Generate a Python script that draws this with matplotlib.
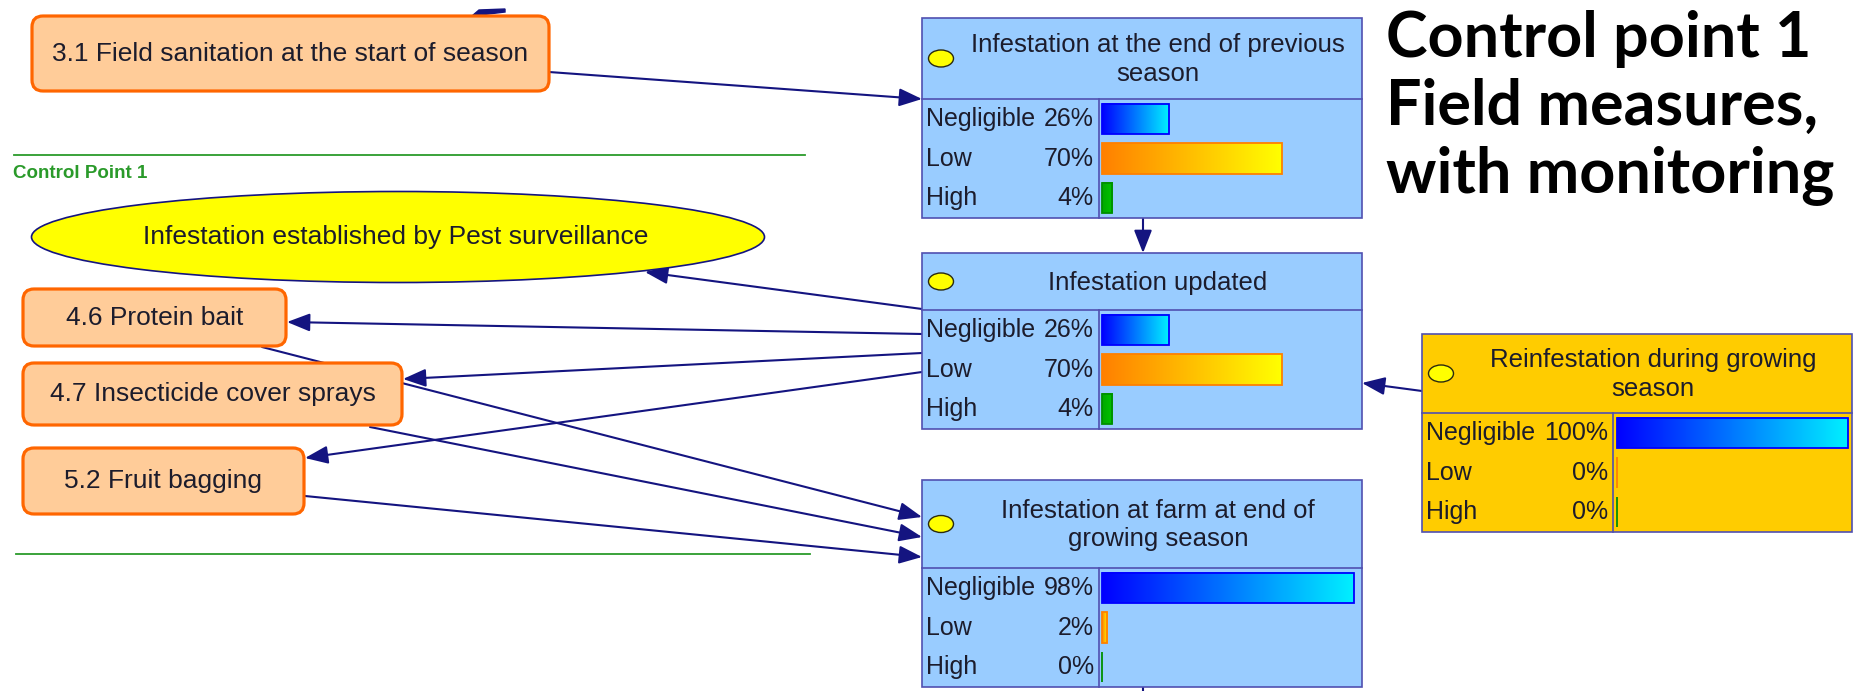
import matplotlib
matplotlib.use('Agg')
import matplotlib.pyplot as plt
from matplotlib.patches import Rectangle, FancyBboxPatch, Ellipse
from matplotlib.colors import LinearSegmentedColormap
import numpy as np

W, H = 1855, 691

# belief values (percent) for each node
states = ['Negligible', 'Low', 'High']
prev_season = [26, 70, 4]
updated = [26, 70, 4]
farm_end = [98, 2, 0]
reinfestation = [100, 0, 0]

table_titles = ['Infestation at the end of previous\nseason',
                'Infestation updated',
                'Infestation at farm at end of\ngrowing season',
                'Reinfestation during growing\nseason']
table_values = [prev_season, updated, farm_end, reinfestation]

decision_labels = ['3.1 Field sanitation at the start of season',
                   '4.6 Protein bait',
                   '4.7 Insecticide cover sprays',
                   '5.2 Fruit bagging']
surveillance_label = 'Infestation established by Pest surveillance'
title_lines = ['Control point 1', 'Field measures,', 'with monitoring']

# layout in pixels (left, top, right, header height, label column width, colour)
tables = [(922, 18, 1362, 81, 177, '#99ccff'),
          (922, 253, 1362, 57, 177, '#99ccff'),
          (922, 480, 1362, 88, 177, '#99ccff'),
          (1422, 334, 1852, 79, 191, '#ffcc00')]
row_h = 39.7
decision_boxes = [(32, 16, 549, 91), (23, 289, 286, 346),
                  (23, 363, 402, 425), (23, 448, 304, 514)]
edges = [((549, 72), (922, 99)), ((1143, 218), (1143, 253)),
         ((922, 309), (645, 272)), ((922, 334), (287, 322)),
         ((922, 353), (403, 379)), ((922, 372), (305, 458)),
         ((262, 347), (922, 517)), ((370, 427), (922, 537)),
         ((305, 496), (922, 557)), ((1422, 391), (1362, 383))]

navy = '#141480'
border = '#5050b0'
txt = '#1c1c2c'
font = 'Liberation Sans'
bar_maps = [LinearSegmentedColormap.from_list('neg', ['#0000ff', '#00f0ff']),
            LinearSegmentedColormap.from_list('low', ['#ff8000', '#ffff00']),
            LinearSegmentedColormap.from_list('high', ['#00a800', '#00c400'])]
bar_edges = ['#0000ff', '#ff8000', '#009000']

fig = plt.figure(figsize=(W / 100, H / 100), dpi=100)
ax = fig.add_axes([0, 0, 1, 1])
ax.set_xlim(0, W)
ax.set_ylim(H, 0)
ax.axis('off')

# green control point lines
ax.plot([14, 805], [155, 155], color='#2b9b2b', lw=1.3)
ax.plot([16, 810], [554, 554], color='#2b9b2b', lw=1.3)
ax.text(13, 173, 'Control Point 1', color='#2a9a2a', fontsize=13.5,
        fontweight='bold', family=font, va='center', ha='left')

# links
for (x0, y0), (x1, y1) in edges:
    ax.annotate('', xy=(x1, y1), xytext=(x0, y0),
                arrowprops=dict(arrowstyle='-|>,head_length=1.4,head_width=0.55',
                                mutation_scale=10, color=navy, lw=1.5,
                                shrinkA=0, shrinkB=0), zorder=1)
ax.plot([1143, 1143], [687, 695], color=navy, lw=1.5, zorder=1)
ax.fill([472, 479, 505, 505], [16, 10, 9, 12], color=navy, zorder=1)

# decision nodes
for (x0, y0, x1, y1), label in zip(decision_boxes, decision_labels):
    ax.add_patch(FancyBboxPatch((x0, y0), x1 - x0, y1 - y0,
                                boxstyle='round,pad=0,rounding_size=11',
                                fc='#ffcc99', ec='#ff6600', lw=2.3, zorder=3))
    ax.text((x0 + x1) / 2, (y0 + y1) / 2, label, fontsize=19, family=font,
            color=txt, ha='center', va='center', zorder=4)

# surveillance node
ax.add_patch(Ellipse((398, 237), 733, 91, fc='#ffff00', ec=navy, lw=1.2, zorder=3))
ax.text(396, 237, surveillance_label, fontsize=19, family=font, color=txt,
        ha='center', va='center', zorder=4)

# belief tables
for (x0, y0, x1, hh, lw_, fc), title, vals in zip(tables, table_titles, table_values):
    y1 = y0 + hh + 3 * row_h
    xd = x0 + lw_
    ax.add_patch(Rectangle((x0, y0), x1 - x0, y1 - y0, fc=fc, ec=border, lw=1.2, zorder=3))
    ax.plot([x0, x1], [y0 + hh, y0 + hh], color=border, lw=1.2, zorder=4)
    ax.plot([xd, xd], [y0 + hh, y1], color=border, lw=1.2, zorder=4)
    ax.add_patch(Ellipse((x0 + 19, y0 + hh / 2), 25, 17, fc='#ffff00',
                         ec='#2a2a10', lw=1, zorder=4))
    ax.text((x0 + 32 + x1) / 2, y0 + hh / 2 + 1, title, fontsize=18.5, family=font,
            color=txt, ha='center', va='center', linespacing=1.25, zorder=4)
    for i, (s, v) in enumerate(zip(states, vals)):
        yc = y0 + hh + (i + 0.5) * row_h
        ax.text(x0 + 4, yc, s, fontsize=18, family=font, color=txt,
                ha='left', va='center', zorder=4)
        ax.text(xd - 5, yc, f'{v}%', fontsize=18, family=font, color=txt,
                ha='right', va='center', zorder=4)

    # bar panel with its own 0-100 scale
    pad = 3 if fc == '#99ccff' else 4
    bx = fig.add_axes([xd / W, 1 - y1 / H, (x1 - xd) / W, 3 * row_h / H])
    bx.set_axis_off()
    span = x1 - xd - 2 * pad
    grad = np.linspace(0, 1, 256).reshape(1, -1)
    for i, v in enumerate(vals):
        b0, b1 = i + 0.12, i + 0.88
        if v > 0:
            bx.imshow(grad, extent=[0, v, b1, b0], aspect='auto', cmap=bar_maps[i],
                      interpolation='bilinear')
        bx.add_patch(Rectangle((0, b0), v, b1 - b0, fill=False,
                               ec=bar_edges[i], lw=1.3))
    bx.set_xlim(-pad / span * 100, 100 + pad / span * 100)
    bx.set_ylim(3, 0)

# slide title
renderer = fig.canvas.get_renderer()
for ty, line in zip([39, 107, 175], title_lines):
    ax.text(1386, ty, line, fontsize=40, family='Lato', fontweight='bold',
            color='black', ha='left', va='center')
t = ax.texts[-1]
scale = 448 / t.get_window_extent(renderer).width
for t in ax.texts[-3:]:
    t.set_fontsize(40 * scale)

fig.savefig('out.png', dpi=100)
